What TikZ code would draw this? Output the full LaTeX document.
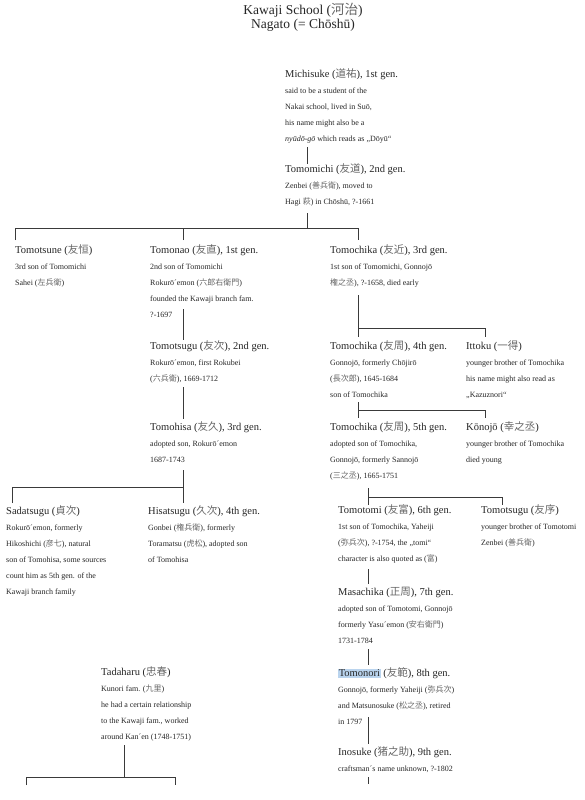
\documentclass[tikz,border=0pt]{standalone}
\usepackage{fontspec}
\setmainfont{Liberation Serif}
\newfontfamily\cjk{Noto Sans CJK JP}
\definecolor{inkgray}{HTML}{262626}
\definecolor{linegray}{HTML}{3A3A3A}
\definecolor{markblue}{RGB}{186,212,238}
% kanji in a lighter tone, as in the page
\newcommand\jp[1]{{\cjk\color{black!60}#1}}
\newcommand\marked[1]{{\setlength\fboxsep{0.6pt}\colorbox{markblue}{#1}}}
% one family member: name, x, y of heading, heading, list of lines
\newcommand\kinsman[5]{%
  \node[head] (#1) at (#2,#3) {#4};
  \foreach \entry [count=\row] in {#5}
    \node[body] (#1-\row) at (#2,{#3+16+16.2*(\row-1)}) {\entry};
}
\tikzset{
  head/.style={anchor=west, inner sep=0pt, text=inkgray,
    font=\fontsize{10.5}{12}\selectfont, text height=8pt, text depth=2.2pt},
  body/.style={anchor=west, inner sep=0pt, text=inkgray,
    font=\fontsize{8}{10}\selectfont, text height=6pt, text depth=1.7pt},
  title/.style={inner sep=0pt, text=inkgray, font=\fontsize{13.5}{15}\selectfont},
  tie/.style={draw=linegray, line width=0.8pt}
}
\begin{document}
\begin{tikzpicture}[x=1pt,y=-1pt]
  \useasboundingbox[fill=white] (0,0) rectangle (584,800);
  \node[title] (title-a) at (303,10) {Kawaji School (\jp{河治})};
  \node[title] (title-b) at (303,25) {Nagato (= Chōshū)};

  % main line
  \kinsman{michisuke}{285}{75}{Michisuke (\jp{道祐}), 1st gen.}{{said to be a student of the},
    {Nakai school, lived in Suō,},{his name might also be a},
    {\textit{nyūdō-gō} which reads as „Dōyū“}}
  \kinsman{tomomichi}{285}{170}{Tomomichi (\jp{友道}), 2nd gen.}{{Zenbei (\jp{善兵衛}), moved to},
    {Hagi \jp{萩}) in Chōshū, ?-1661}}
  \kinsman{tomotsune}{15}{251}{Tomotsune (\jp{友恒})}{{3rd son of Tomomichi},{Sahei (\jp{左兵衛})}}
  \kinsman{tomonao}{150}{251}{Tomonao (\jp{友直}), 1st gen.}{{2nd son of Tomomichi},
    {Rokurō´emon (\jp{六郎右衛門})},{founded the Kawaji branch fam.},{?-1697}}
  \kinsman{tomochika3}{330}{251}{Tomochika (\jp{友近}), 3rd gen.}{{1st son of Tomomichi, Gonnojō},
    {\jp{権之丞}), ?-1658, died early}}

  % Kawaji branch
  \kinsman{tomotsugu}{150}{347}{Tomotsugu (\jp{友次}), 2nd gen.}{{Rokurō´emon, first Rokubei},
    {(\jp{六兵衛}), 1669-1712}}
  \kinsman{tomohisa}{150}{428}{Tomohisa (\jp{友久}), 3rd gen.}{{adopted son, Rokurō´emon},{1687-1743}}
  \kinsman{sadatsugu}{6}{512}{Sadatsugu (\jp{貞次})}{{Rokurō´emon, formerly},
    {Hikoshichi (\jp{彦七}), natural},{son of Tomohisa, some sources},
    {count him as 5th gen. of the},{Kawaji branch family}}
  \kinsman{hisatsugu}{148}{512}{Hisatsugu (\jp{久次}), 4th gen.}{{Gonbei (\jp{権兵衛}), formerly},
    {Toramatsu (\jp{虎松}), adopted son},{of Tomohisa}}
  \kinsman{tadaharu}{101}{673}{Tadaharu (\jp{忠春})}{{Kunori fam. (\jp{九里})},
    {he had a certain relationship},{to the Kawaji fam., worked},{around Kan´en (1748-1751)}}

  % Tomochika line
  \kinsman{tomochika4}{330}{347}{Tomochika (\jp{友周}), 4th gen.}{{Gonnojō, formerly Chōjirō},
    {(\jp{長次郎}), 1645-1684},{son of Tomochika}}
  \kinsman{ittoku}{466}{347}{Ittoku (\jp{一得})}{{younger brother of Tomochika},
    {his name might also read as},{„Kazuznori“}}
  \kinsman{tomochika5}{330}{428}{Tomochika (\jp{友周}), 5th gen.}{{adopted son of Tomochika,},
    {Gonnojō, formerly Sannojō},{(\jp{三之丞}), 1665-1751}}
  \kinsman{konojo}{466}{428}{Kōnojō (\jp{幸之丞})}{{younger brother of Tomochika},{died young}}
  \kinsman{tomotomi}{338}{511}{Tomotomi (\jp{友富}), 6th gen.}{{1st son of Tomochika, Yaheiji},
    {(\jp{弥兵次}), ?-1754, the „tomi“},{character is also quoted as (\jp{富})}}
  \kinsman{tomotsugub}{481}{511}{Tomotsugu (\jp{友序})}{{younger brother of Tomotomi},
    {Zenbei (\jp{善兵衛})}}
  \kinsman{masachika}{338}{593}{Masachika (\jp{正周}), 7th gen.}{{adopted son of Tomotomi, Gonnojō},
    {formerly Yasu´emon (\jp{安右衛門})},{1731-1784}}
  \kinsman{tomonori}{338}{674}{\marked{Tomonori} (\jp{友範}), 8th gen.}{{Gonnojō, formerly Yaheiji (\jp{弥兵次})},
    {and Matsunosuke (\jp{松之丞}), retired},{in 1797}}
  \kinsman{inosuke}{338}{753}{Inosuke (\jp{猪之助}), 9th gen.}{{craftsman´s name unknown, ?-1802}}

  % connectors
  \coordinate (michisuke-out) at (307.7,147);
  \coordinate (tomomichi-in) at (307.7,164);
  \draw[tie] (michisuke-out) -- (tomomichi-in);
  \coordinate (tomomichi-out) at (307.7,213);
  \coordinate (tomomichi-fork) at (307.7,228);
  \coordinate (tomotsune-in) at (15,240);
  \coordinate (tomonao-in) at (183.3,240);
  \coordinate (tomochika3-in) at (358,240);
  \draw[tie] (tomomichi-out) -- (tomomichi-fork);
  \draw[tie] (tomotsune-in) |- (tomochika3-in |- tomomichi-fork) -- (tomochika3-in);
  \draw[tie] (tomonao-in) -- (tomonao-in |- tomomichi-fork);

  \coordinate (tomonao-out) at (183.3,309);
  \coordinate (tomotsugu-in) at (183.3,340);
  \draw[tie] (tomonao-out) -- (tomotsugu-in);
  \coordinate (tomotsugu-out) at (183.3,387);
  \coordinate (tomohisa-in) at (183.3,419);
  \draw[tie] (tomotsugu-out) -- (tomohisa-in);
  \coordinate (tomohisa-out) at (183.3,470);
  \coordinate (tomohisa-fork) at (183.3,487);
  \coordinate (hisatsugu-in) at (183.3,503);
  \coordinate (sadatsugu-in) at (12,503);
  \draw[tie] (tomohisa-out) -- (hisatsugu-in);
  \draw[tie] (sadatsugu-in) |- (tomohisa-fork);

  \coordinate (tadaharu-out) at (124.3,745);
  \coordinate (tadaharu-fork) at (124.3,777);
  \coordinate (tadaharu-left) at (26,785);
  \coordinate (tadaharu-right) at (175.7,785);
  \draw[tie] (tadaharu-out) -- (tadaharu-fork);
  \draw[tie] (tadaharu-left) |- (tadaharu-right |- tadaharu-fork) -- (tadaharu-right);

  \coordinate (tomochika3-out) at (358,295);
  \coordinate (tomochika3-fork) at (358,328);
  \coordinate (tomochika4-in) at (358,337);
  \coordinate (ittoku-in) at (485,337);
  \draw[tie] (tomochika3-out) -- (tomochika4-in);
  \draw[tie] (tomochika3-fork) -| (ittoku-in);

  \coordinate (tomochika4-out) at (358,402);
  \coordinate (tomochika4-fork) at (358,410);
  \coordinate (tomochika5-in) at (358,418);
  \coordinate (konojo-in) at (485,418);
  \draw[tie] (tomochika4-out) -- (tomochika5-in);
  \draw[tie] (tomochika4-fork) -| (konojo-in);

  \coordinate (tomochika5-out) at (368.5,488);
  \coordinate (tomochika5-fork) at (368.5,497);
  \coordinate (tomotomi-in) at (368.5,505);
  \coordinate (tomotsugub-in) at (502,505);
  \draw[tie] (tomochika5-out) -- (tomotomi-in);
  \draw[tie] (tomochika5-fork) -| (tomotsugub-in);

  \coordinate (tomotomi-out) at (368.5,569);
  \coordinate (masachika-in) at (368.5,584);
  \draw[tie] (tomotomi-out) -- (masachika-in);
  \coordinate (masachika-out) at (368.5,649);
  \coordinate (tomonori-in) at (368.5,665);
  \draw[tie] (masachika-out) -- (tomonori-in);
  \coordinate (tomonori-out) at (368.5,717);
  \coordinate (inosuke-in) at (368.5,744);
  \draw[tie] (tomonori-out) -- (inosuke-in);
  \coordinate (inosuke-out) at (368.5,777);
  \coordinate (inosuke-end) at (368.5,784);
  \draw[tie] (inosuke-out) -- (inosuke-end);
\end{tikzpicture}
\end{document}
